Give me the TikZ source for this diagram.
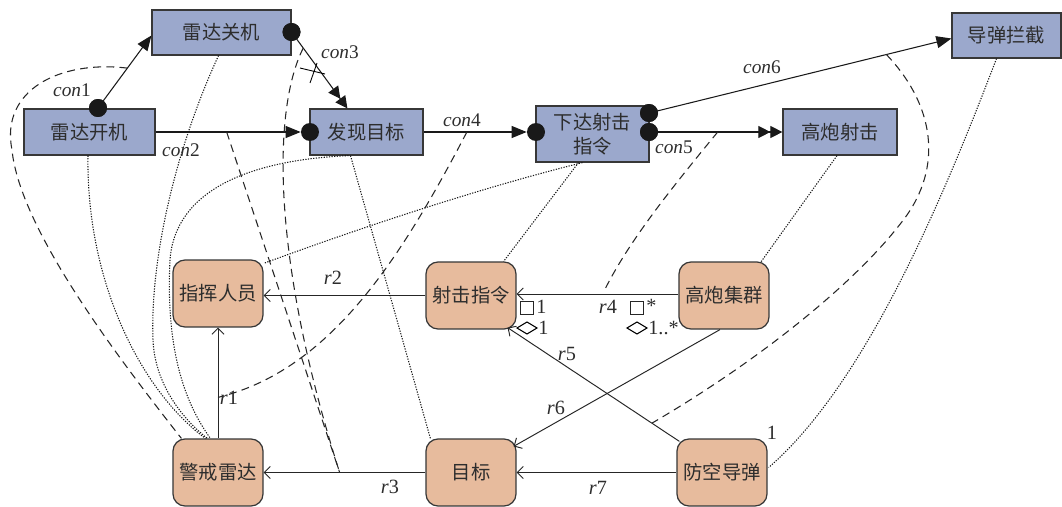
\documentclass[tikz,border=0pt]{standalone}
\usepackage{fontspec}
\setmainfont{Liberation Serif}
\newfontfamily\cjk{Noto Sans CJK SC}
\usetikzlibrary{arrows.meta,calc}
\definecolor{bluefill}{RGB}{155,168,204}
\definecolor{orfill}{RGB}{231,187,157}
\definecolor{edgec}{RGB}{55,55,55}
\definecolor{txt}{RGB}{45,45,45}
\begin{document}
\begin{tikzpicture}[x=0.02cm,y=-0.02cm,
  bnode/.style={draw=edgec, fill=bluefill, line width=0.7pt, inner sep=0pt, align=center,
    font=\cjk\fontsize{11}{13.5}\selectfont, text=txt},
  onode/.style={draw=edgec, fill=orfill, line width=0.7pt, inner sep=0pt, rounded corners=0.24cm,
    minimum width=1.8cm, minimum height=1.34cm, font=\cjk\fontsize{11}{13.5}\selectfont, text=txt},
  dotn/.style={circle, fill=black!90, draw=none, minimum size=0.36cm, inner sep=0pt},
  conn/.style={line width=0.6pt, draw=black!90},
  tri/.style={conn, -{Triangle[length=0.3cm,width=0.24cm]}},
  dtri/.style={conn, -{Triangle[length=0.24cm,width=0.24cm]Triangle[length=0.24cm,width=0.24cm]}},
  rel/.style={line width=0.55pt, draw=black!85},
  oarr/.style={rel, -{Straight Barb[length=0.12cm,width=0.24cm]}},
  dsh/.style={line width=0.6pt, draw=black!85, dash pattern=on 4.5pt off 3pt},
  dtt/.style={line width=0.6pt, draw=black!90, dash pattern=on 0.7pt off 0.8pt},
  lbl/.style={inner sep=0pt, font=\fontsize{11.5}{13}\selectfont, text=txt},
  clbl/.style={inner sep=0pt, font=\fontsize{11}{13}\selectfont, text=txt},
  mk/.style={draw=black!85, line width=0.55pt, fill=white, minimum size=0.25cm, inner sep=0pt}
]
\useasboundingbox (0,0) rectangle (1062,507);
\fill[white] (0,0) rectangle (1062,507);

% ---- blue function nodes
\node[bnode, minimum width=2.62cm, minimum height=0.92cm] (kj) at (89.5,132) {雷达开机};
\node[bnode, minimum width=2.78cm, minimum height=0.90cm] (gj) at (221.5,32.5) {雷达关机};
\node[bnode, minimum width=2.26cm, minimum height=0.92cm] (fx) at (366.5,132) {发现目标};
\node[bnode, minimum width=2.26cm, minimum height=1.12cm] (xd) at (592.5,134) {下达射击\\指令};
\node[bnode, minimum width=2.28cm, minimum height=0.92cm] (gp) at (840,132) {高炮射击};
\node[bnode, minimum width=2.18cm, minimum height=0.90cm] (dd) at (1006.5,35.5) {导弹拦截};

% ---- orange entity nodes
\node[onode] (zh) at (218,293.5) {指挥人员};
\node[onode] (jj) at (218,472.5) {警戒雷达};
\node[onode] (sj) at (471,295.5) {射击指令};
\node[onode] (mb) at (471,472.5) {目标};
\node[onode] (gq) at (724,295.5) {高炮集群};
\node[onode] (fk) at (722,472.5) {防空导弹};

% ---- dots
\node[dotn] (d1) at (98,108) {};
\node[dotn] (d2) at (310,132) {};
\node[dotn] (d3) at (291.5,32) {};
\node[dotn] (d4) at (536,132) {};
\node[dotn] (d5) at (649,132) {};
\node[dotn] (d6) at (649,113) {};

% ---- connectors
\draw[tri] (d1.center) -- ($(gj.west)+(0,3)$) coordinate[pos=0.55] (m1);
\draw[tri] (kj.east) -- (d2) coordinate[pos=0.49] (m2);
\draw[dtri] (d3.center) -- ($(fx.north west)+(38,0)$) coordinate[pos=0.21] (m3);
\draw[tri] (fx.east) -- (d4) coordinate[pos=0.42] (m4);
\draw[dtri] (d5.center) -- (gp.west) coordinate[pos=0.515] (m5);
\draw[tri] (d6.center) -- ($(dd.west)+(0,3)$) coordinate[pos=0.785] (m6);
\foreach \d in {d1,d3,d5,d6} \fill[black!90] (\d) circle[radius=0.18cm];

% cross mark on con3
\draw[line width=0.5pt] (300,68) -- (325,74);
\draw[line width=0.5pt] (317,63) -- (310,83);

% ---- relations
\draw[oarr] (jj.north) -- (zh.south) coordinate[pos=0.37] (q1);
\draw[oarr] (sj.west) -- (sj.west -| zh.east);
\draw[oarr] (mb.west) -- (mb.west -| jj.east) coordinate[pos=0.53] (q3);
\draw[oarr] ($(gq.west)+(0,-1.5)$) -- ($(gq.west -| sj.east)+(0,-1.5)$) coordinate[pos=0.45] (q4);
\draw[oarr] ($(fk.north west)+(3,3)$) -- ($(sj.south east)+(-9,-2)$) coordinate[pos=0.16] (q5);
\draw[oarr] ($(gq.south)+(-4,0)$) -- ($(mb.north east)+(-3,8)$);
\draw[oarr] (fk.west) -- (fk.west -| mb.east);

% ---- dashed mappings connector -> relation
\draw[dsh] (m1) .. controls (60,60) and (0,90) .. (12,150) .. controls (20,230) and (120,360) .. ($(jj.north west)+(9,0)$);
\draw[dsh] (m2) -- (q3);
\draw[dsh] (m3) .. controls (272,110) and (272,260) .. (q3);
\draw[dsh] (m4) .. controls (400,260) and (330,370) .. (q1);
\draw[dsh] (m5) .. controls (670,190) and (630,240) .. ($(q4)+(0,-6)$);
\draw[dsh] (m6) .. controls (930,100) and (945,160) .. (907,215) .. controls (860,280) and (760,360) .. (q5);

% ---- dotted mappings function -> entity
\draw[dtt] ($(kj.south)+(-1.5,0)$) .. controls (86,280) and (140,390) .. ($(jj.north west)+(33,0)$);
\draw[dtt] ($(gj.south)+(-3,0)$) .. controls (175,150) and (150,260) .. (153,340) .. controls (155,390) and (190,425) .. ($(jj.north west)+(35,0)$);
\draw[dtt] ($(fx.south)+(-18,0)$) .. controls (250,160) and (175,190) .. (170,260) .. controls (165,360) and (190,410) .. ($(jj.north west)+(38,0)$);
\draw[dtt] ($(fx.south)+(-16,0)$) -- ($(mb.north west)+(5,0)$);
\draw[dtt] ($(xd.south)+(-10,0)$) .. controls (480,188) and (360,228) .. ($(zh.north east)+(0,4)$);
\draw[dtt] ($(xd.south)+(-14,0)$) -- ($(sj.north east)+(-13,0)$);
\draw[dtt] ($(gp.south)+(-3,0)$) -- ($(gq.north east)+(-9,1)$);
\draw[dtt] ($(dd.south)+(-10,0)$) .. controls (950,180) and (870,380) .. ($(fk.east)+(1,-5)$);

% ---- labels
\node[clbl] (lc1) at (72,90) {\textit{con}1};
\node[clbl] (lc2) at (181,150) {\textit{con}2};
\node[clbl] (lc3) at (340,52) {\textit{con}3};
\node[clbl] (lc4) at (462,120) {\textit{con}4};
\node[clbl] (lc5) at (674,147) {\textit{con}5};
\node[clbl] (lc6) at (762,67) {\textit{con}6};
\node[lbl] (lr1) at (229,398) {\textit{r}1};
\node[lbl] (lr2) at (333,278) {\textit{r}2};
\node[lbl] (lr3) at (390,487) {\textit{r}3};
\node[lbl] (lr4) at (608,307) {\textit{r}4};
\node[lbl] (lr5) at (567,354) {\textit{r}5};
\node[lbl] (lr6) at (556,408) {\textit{r}6};
\node[lbl] (lr7) at (598,488) {\textit{r}7};
\node[lbl] (lone) at (772,433) {1};

% ---- multiplicity marks
\node[mk] (sq1) at (527,308) {};
\node[lbl, anchor=west] (m1a) at (536,307) {1};
\draw[line width=0.6pt] (517,328) -- (527,322) -- (537,328) -- (527,334) -- cycle;
\node[lbl, anchor=west] (m1b) at (538,328) {1};
\node[mk] (sq2) at (637,308) {};
\node[lbl, anchor=west] (m2a) at (646,306) {*};
\draw[line width=0.6pt] (627,328) -- (637,322) -- (647,328) -- (637,334) -- cycle;
\node[lbl, anchor=west] (m2b) at (648,328) {1..*};
\end{tikzpicture}
\end{document}
